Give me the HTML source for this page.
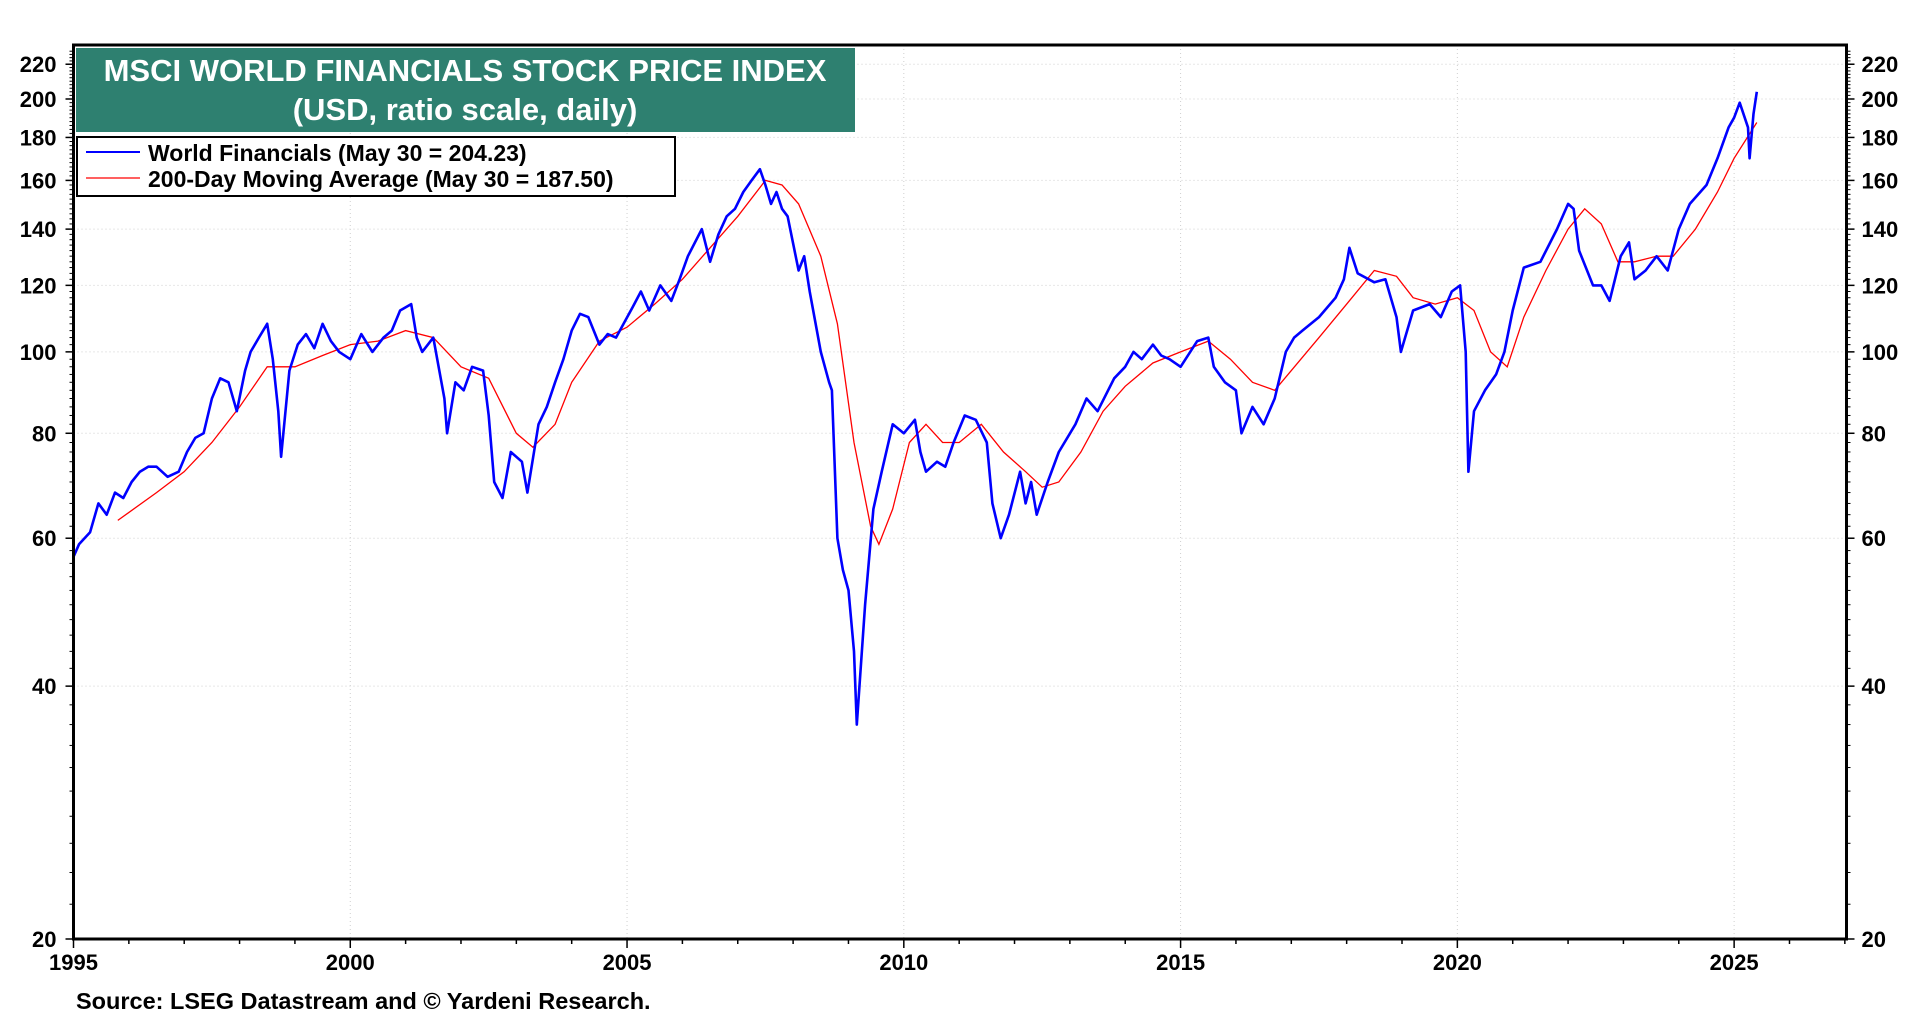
<!DOCTYPE html>
<html><head><meta charset="utf-8">
<style>
html,body{margin:0;padding:0;background:#fff;}
body{width:1920px;height:1020px;overflow:hidden;font-family:"Liberation Sans",Arial,sans-serif;}
svg text{font-family:"Liberation Sans",Arial,sans-serif;font-weight:bold;}
</style></head>
<body>
<svg id="chart" width="1920" height="1020" xmlns="http://www.w3.org/2000/svg">
  <g id="grid"></g>
  <g id="axes"></g>
  <g id="series"></g>
  <rect x="73.5" y="45" width="1773" height="894" fill="none" stroke="#000" stroke-width="3"/>
  <g>
    <rect x="76" y="48" width="779" height="84" fill="#2e8070"/>
    <text x="465" y="81" fill="#fff" font-size="31" text-anchor="middle">MSCI WORLD FINANCIALS STOCK PRICE INDEX</text>
    <text x="465" y="120" fill="#fff" font-size="31" text-anchor="middle">(USD, ratio scale, daily)</text>
  </g>
  <g>
    <rect x="77" y="137" width="598" height="59" fill="#fff" stroke="#000" stroke-width="2"/>
    <g>
      <line x1="86" y1="152" x2="140" y2="152" stroke="#0000ff" stroke-width="2"/>
      <text x="148" y="161" font-size="23">World Financials (May 30 = 204.23)</text>
    </g>
    <g>
      <line x1="86" y1="178" x2="140" y2="178" stroke="#ff0000" stroke-width="1.2"/>
      <text x="148" y="187" font-size="23">200-Day Moving Average (May 30 = 187.50)</text>
    </g>
  </g>
  <text x="76" y="1009" font-size="23.5">Source: LSEG Datastream and © Yardeni Research.</text>
</svg>
<script>
const priceYears=[
1995.0,1995.1,1995.3,1995.45,1995.6,1995.75,1995.9,1996.05,1996.2,1996.35,
1996.5,1996.7,1996.9,1997.05,1997.2,1997.35,1997.5,1997.65,1997.8,1997.95,
1998.1,1998.2,1998.35,1998.5,1998.6,1998.7,1998.75,1998.9,1999.05,1999.2,
1999.35,1999.5,1999.65,1999.8,2000.0,2000.2,2000.4,2000.6,2000.75,2000.9,
2001.1,2001.2,2001.3,2001.5,2001.7,2001.75,2001.9,2002.05,2002.2,2002.4,
2002.5,2002.6,2002.75,2002.9,2003.1,2003.2,2003.4,2003.55,2003.7,2003.85,
2004.0,2004.15,2004.3,2004.5,2004.65,2004.8,2005.1,2005.25,2005.4,2005.6,
2005.8,2005.95,2006.1,2006.35,2006.5,2006.65,2006.8,2006.95,2007.1,2007.25,
2007.4,2007.5,2007.6,2007.7,2007.8,2007.9,2008.1,2008.2,2008.3,2008.5,
2008.65,2008.7,2008.8,2008.9,2009.0,2009.1,2009.15,2009.3,2009.45,2009.6,
2009.8,2010.0,2010.2,2010.3,2010.4,2010.6,2010.75,2010.9,2011.1,2011.3,
2011.5,2011.6,2011.75,2011.9,2012.1,2012.2,2012.3,2012.4,2012.6,2012.8,
2013.1,2013.3,2013.5,2013.8,2014.0,2014.15,2014.3,2014.5,2014.65,2014.8,
2015.0,2015.3,2015.5,2015.6,2015.8,2016.0,2016.1,2016.3,2016.5,2016.7,
2016.9,2017.05,2017.2,2017.5,2017.8,2017.95,2018.05,2018.2,2018.5,2018.7,
2018.9,2018.98,2019.2,2019.5,2019.7,2019.9,2020.05,2020.15,2020.2,2020.3,
2020.5,2020.7,2020.85,2021.0,2021.2,2021.5,2021.8,2022.0,2022.1,2022.2,
2022.45,2022.6,2022.75,2022.95,2023.1,2023.2,2023.4,2023.6,2023.8,2024.0,
2024.2,2024.5,2024.7,2024.9,2025.0,2025.1,2025.25,2025.28,2025.35,2025.41];
const priceValues=[
57,59,61,66,64,68,67,70,72,73,
73,71,72,76,79,80,88,93,92,85,
95,100,104,108,98,85,75,95,102,105,
101,108,103,100,98,105,100,104,106,112,
114,104,100,104,88,80,92,90,96,95,
84,70,67,76,74,68,82,86,92,98,
106,111,110,102,105,104,113,118,112,120,
115,122,130,140,128,138,145,148,155,160,
165,158,150,155,148,145,125,130,118,100,
92,90,60,55,52,44,36,50,65,72,
82,80,83,76,72,74,73,78,84,83,
78,66,60,64,72,66,70,64,70,76,
82,88,85,93,96,100,98,102,99,98,
96,103,104,96,92,90,80,86,82,88,
100,104,106,110,116,122,133,124,121,122,
110,100,112,114,110,118,120,100,72,85,
90,94,100,112,126,128,140,150,148,132,
120,120,115,130,135,122,125,130,125,140,
150,158,170,185,190,198,185,170,192,204];
const maYears=[1995.8,1996.5,1997.0,1997.5,1998.0,1998.5,1999.0,1999.5,2000.0,2000.5,2001.0,2001.5,2002.0,2002.5,2003.0,2003.3,2003.7,2004.0,2004.5,2005.0,2005.5,2006.0,2006.5,2007.0,2007.5,2007.8,2008.1,2008.5,2008.8,2009.1,2009.4,2009.55,2009.8,2010.1,2010.4,2010.7,2011.0,2011.4,2011.8,2012.2,2012.5,2012.8,2013.2,2013.6,2014.0,2014.5,2015.0,2015.5,2015.9,2016.3,2016.7,2017.0,2017.5,2018.0,2018.5,2018.9,2019.2,2019.6,2020.0,2020.3,2020.6,2020.9,2021.2,2021.6,2022.0,2022.3,2022.6,2022.9,2023.2,2023.6,2023.9,2024.3,2024.7,2025.0,2025.41];
const maValues=[63,68,72,78,86,96,96,99,102,103,106,104,96,93,80,77,82,92,103,107,114,122,133,145,160,158,150,130,108,78,62,59,65,78,82,78,78,82,76,72,69,70,76,85,91,97,100,103,98,92,90,95,104,114,125,123,116,114,116,112,100,96,110,125,140,148,142,128,128,130,130,140,155,170,187.5];
const yTicks=[20,40,60,80,100,120,140,160,180,200,220];
const xTicks=[1995,2000,2005,2010,2015,2020,2025];

const L=73.5,R=1846.5,T=45,B=939;
const X0=1995,X1=2027.03;
const PPD=840;
const NS='http://www.w3.org/2000/svg';
function xs(t){return L+(t-X0)/(X1-X0)*(R-L);}
function ys(v){return B-Math.log10(v/20)*PPD;}
function mk(tag,attrs,parent){const e=document.createElementNS(NS,tag);for(const k in attrs)e.setAttribute(k,attrs[k]);parent.appendChild(e);return e;}
const grid=document.getElementById('grid'),axes=document.getElementById('axes'),series=document.getElementById('series');

yTicks.forEach(v=>{
  const y=ys(v);
  const g=mk('line',{x1:L,x2:R,y1:y,y2:y,stroke:'#cfcfcf','stroke-width':1,'stroke-dasharray':'1,3'},grid);
  
  
  mk('line',{x1:L-8,x2:L,y1:y,y2:y,stroke:'#000','stroke-width':1.5},axes);
  mk('line',{x1:R,x2:R+8,y1:y,y2:y,stroke:'#000','stroke-width':1.5},axes);
  const tl=mk('text',{x:L-17,y:y+8,'font-size':22,'text-anchor':'end'},axes);
  tl.textContent=v;
  
  
  const tr=mk('text',{x:R+15,y:y+8,'font-size':22,'text-anchor':'start'},axes);
  tr.textContent=v;
  
  
});
for(let v=22;v<230;v+=2){ if(v%20===0)continue; const y=ys(v); if(y<T)break;
  mk('line',{x1:L-4,x2:L,y1:y,y2:y,stroke:'#000','stroke-width':1},axes);
  mk('line',{x1:R,x2:R+4,y1:y,y2:y,stroke:'#000','stroke-width':1},axes);
}
for(let yr=1995;yr<=2027;yr++){const x=xs(yr);
  mk('line',{x1:x,x2:x,y1:B,y2:B+(yr%5===0?9:5),stroke:'#000','stroke-width':1.5},axes);
}
xTicks.forEach(t=>{
  const x=xs(t);
  const g=mk('line',{x1:x,x2:x,y1:T,y2:B,stroke:'#cfcfcf','stroke-width':1,'stroke-dasharray':'1,3'},grid);
  
  
  const tl=mk('text',{x:x,y:B+31,'font-size':22,'text-anchor':'middle'},axes);
  tl.textContent=t;
  
  
});
function path(xa,va){return xa.map((t,i)=>(i?'L':'M')+xs(t).toFixed(1)+','+ys(va[i]).toFixed(1)).join('');}
const ma=mk('path',{d:path(maYears,maValues),fill:'none',stroke:'#ff0000','stroke-width':1.3},series);


const pr=mk('path',{d:path(priceYears,priceValues),fill:'none',stroke:'#0000ff','stroke-width':2.6,'stroke-linejoin':'round'},series);


</script>
</body></html>
